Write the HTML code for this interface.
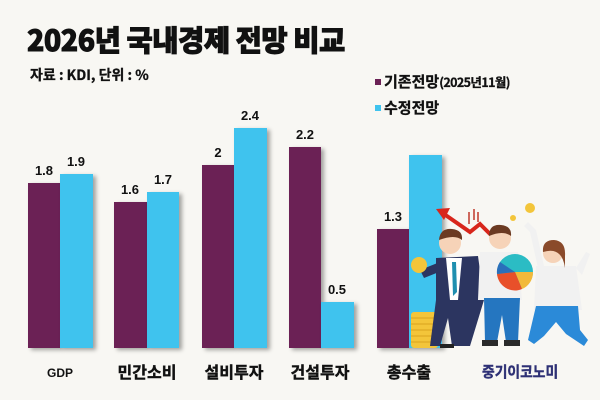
<!DOCTYPE html>
<html><head><meta charset="utf-8">
<style>
html,body{margin:0;padding:0;}
body{width:600px;height:400px;background:#f8f7f3;position:relative;overflow:hidden;font-family:"Liberation Sans","Noto Sans CJK KR",sans-serif;}
.a{position:absolute;}
.title{left:27px;top:25px;font-size:29px;font-weight:900;line-height:29px;white-space:nowrap;color:#111;transform:scaleX(0.985);transform-origin:0 0;letter-spacing:-0.5px;font-family:"Noto Sans CJK KR",sans-serif;-webkit-text-stroke:0.9px #111;}
.sub{left:30px;top:66px;font-size:14px;font-weight:700;line-height:18px;color:#111;white-space:nowrap;font-family:"Noto Sans CJK KR",sans-serif;-webkit-text-stroke:0.3px #111;}
.leg{font-size:15px;font-weight:700;line-height:18px;color:#111;white-space:nowrap;font-family:"Noto Sans CJK KR",sans-serif;-webkit-text-stroke:0.3px #111;}
.leg small{font-size:12.5px;letter-spacing:-0.6px;}
.sq{width:6px;height:6px;}
.b{box-shadow:3px 2px 4px rgba(0,0,0,0.35);}
.p{background:#6b2155;}
.c{background:#3fc3ee;}
.v{font-size:13px;font-weight:700;color:#111;width:40px;text-align:center;line-height:14px;font-family:"Liberation Sans",sans-serif;}
.cat{font-size:16px;font-weight:700;color:#111;text-align:center;width:80px;line-height:18px;font-family:"Noto Sans CJK KR",sans-serif;-webkit-text-stroke:0.4px #111;}
</style></head><body>
<div class="a title">2026년 국내경제 전망 비교</div>
<div class="a sub">자료 : KDI, 단위 : %</div>
<div class="a sq p" style="left:375px;top:79px;"></div>
<div class="a leg" style="left:384px;top:73px;">기존전망<small>(2025년11월)</small></div>
<div class="a sq c" style="left:375px;top:105px;"></div>
<div class="a leg" style="left:384px;top:99px;">수정전망</div>

<!-- bars: baseline 348 -->
<div class="a b p" style="left:28px;top:183px;width:32px;height:165px;"></div>
<div class="a b c" style="left:60px;top:174px;width:33px;height:174px;"></div>
<div class="a b p" style="left:114px;top:202px;width:33px;height:146px;"></div>
<div class="a b c" style="left:147px;top:192px;width:32px;height:156px;"></div>
<div class="a b p" style="left:202px;top:165px;width:32px;height:183px;"></div>
<div class="a b c" style="left:234px;top:128px;width:33px;height:220px;"></div>
<div class="a b p" style="left:289px;top:147px;width:32px;height:201px;"></div>
<div class="a b c" style="left:321px;top:302px;width:33px;height:46px;"></div>
<div class="a b p" style="left:377px;top:229px;width:32px;height:119px;"></div>
<div class="a b c" style="left:409px;top:155px;width:33px;height:193px;"></div>

<!-- value labels -->
<div class="a v" style="left:24px;top:164px;">1.8</div>
<div class="a v" style="left:56px;top:155px;">1.9</div>
<div class="a v" style="left:110px;top:183px;">1.6</div>
<div class="a v" style="left:143px;top:173px;">1.7</div>
<div class="a v" style="left:198px;top:146px;">2</div>
<div class="a v" style="left:230px;top:109px;">2.4</div>
<div class="a v" style="left:285px;top:128px;">2.2</div>
<div class="a v" style="left:317px;top:283px;">0.5</div>
<div class="a v" style="left:373px;top:210px;">1.3</div>

<!-- category labels -->
<div class="a cat" style="left:20px;top:364px;font-size:12px;font-weight:600;-webkit-text-stroke:0;font-family:'Liberation Sans',sans-serif;">GDP</div>
<div class="a cat" style="left:107px;top:362px;">민간소비</div>
<div class="a cat" style="left:194px;top:362px;">설비투자</div>
<div class="a cat" style="left:280px;top:362px;">건설투자</div>
<div class="a cat" style="left:369px;top:362px;">총수출</div>
<div class="a" style="left:482px;top:363px;font-size:15px;font-weight:700;color:#2e3175;line-height:18px;white-space:nowrap;transform:scaleX(0.92);transform-origin:0 0;font-family:'Noto Sans CJK KR',sans-serif;-webkit-text-stroke:0.4px #2e3175;">중기이코노미</div>

<!-- illustration -->
<svg class="a" style="left:400px;top:195px;" width="200" height="160" viewBox="400 195 200 160">
  <!-- red arrow -->
  <polyline points="492,236 480,224 470,232 444,214" fill="none" stroke="#d8261c" stroke-width="4"/>
  <polygon points="436,209 450,208 444,220" fill="#d8261c"/>
  <line x1="469" y1="212" x2="469" y2="224" stroke="#c0392b" stroke-width="1.5"/>
  <line x1="474" y1="209" x2="474" y2="220" stroke="#c0392b" stroke-width="1.5"/>
  <line x1="478" y1="212" x2="478" y2="222" stroke="#c0392b" stroke-width="1.5"/>
  <!-- small coins -->
  <circle cx="530" cy="208" r="5" fill="#f3c53a"/>
  <circle cx="513" cy="218" r="3" fill="#f3c53a"/>
  <!-- coin stack -->
  <rect x="411" y="312" width="27" height="36" rx="3" fill="#f3c53a"/>
  <g stroke="#d9a21f" stroke-width="1">
    <line x1="411" y1="318" x2="438" y2="318"/><line x1="411" y1="324" x2="438" y2="324"/>
    <line x1="411" y1="330" x2="438" y2="330"/><line x1="411" y1="336" x2="438" y2="336"/>
    <line x1="411" y1="342" x2="438" y2="342"/>
  </g>
  <!-- man 1 (suit) -->
  <path d="M436 258 L478 256 L484 300 L470 346 L452 346 L448 318 L440 346 L430 346 L436 300 Z" fill="#2c3560"/>
  <path d="M420 270 L440 262 L444 270 L424 278 Z" fill="#2c3560"/>
  <polygon points="446,258 462,258 458,300 450,300" fill="#ffffff"/>
  <polygon points="452,262 456,262 457,292 453,296" fill="#1f8fb0"/>
  <circle cx="450" cy="243" r="11" fill="#f6d3b8"/>
  <path d="M439 240 Q440 228 452 229 Q463 230 462 240 Q455 234 439 240 Z" fill="#6b3a22"/>
  <circle cx="419" cy="265" r="8" fill="#f3c53a"/>
  <rect x="440" y="344" width="14" height="4" fill="#222"/>
  <!-- man 2 (white shirt) -->
  <path d="M480 252 L518 252 L522 300 L478 300 Z" fill="#f1f1f1"/>
  <path d="M484 298 L520 298 L518 342 L506 342 L502 315 L497 342 L485 342 Z" fill="#2576c0"/>
  <rect x="482" y="340" width="16" height="6" fill="#2a2a2a"/>
  <rect x="504" y="340" width="16" height="6" fill="#2a2a2a"/>
  <circle cx="500" cy="238" r="11" fill="#f6d3b8"/>
  <path d="M489 236 Q489 224 501 225 Q512 226 511 236 Q503 230 489 236 Z" fill="#6b3a22"/>
  <!-- pie chart -->
  <circle cx="515" cy="272" r="18" fill="#2bbcc4"/>
  <path d="M515 272 L533 272 A18 18 0 0 1 522 289 Z" fill="#f2b93a"/>
  <path d="M515 272 L522 289 A18 18 0 0 1 497 274 Z" fill="#e8502a"/>
  <path d="M515 272 L497 274 A18 18 0 0 1 500 262 Z" fill="#2a6fba"/>
  <!-- woman -->
  <path d="M536 266 L576 266 L582 310 L534 310 Z" fill="#f1f1f1"/>
  <path d="M538 268 L530 232 L524 226 L528 222 L536 230 L544 266 Z" fill="#f1f1f1"/>
  <path d="M576 268 L586 252 L590 254 L582 275 Z" fill="#f1f1f1"/>
  <path d="M536 306 L578 306 L580 330 L588 340 L584 346 L566 334 L556 322 L544 336 L534 344 L528 340 Z" fill="#2b8ad8"/>
  <circle cx="553" cy="253" r="10" fill="#f6d3b8"/>
  <path d="M543 252 Q542 240 554 240 Q566 241 565 256 L565 268 Q562 246 543 252 Z" fill="#8a4a2a"/>
</svg>
</body></html>
